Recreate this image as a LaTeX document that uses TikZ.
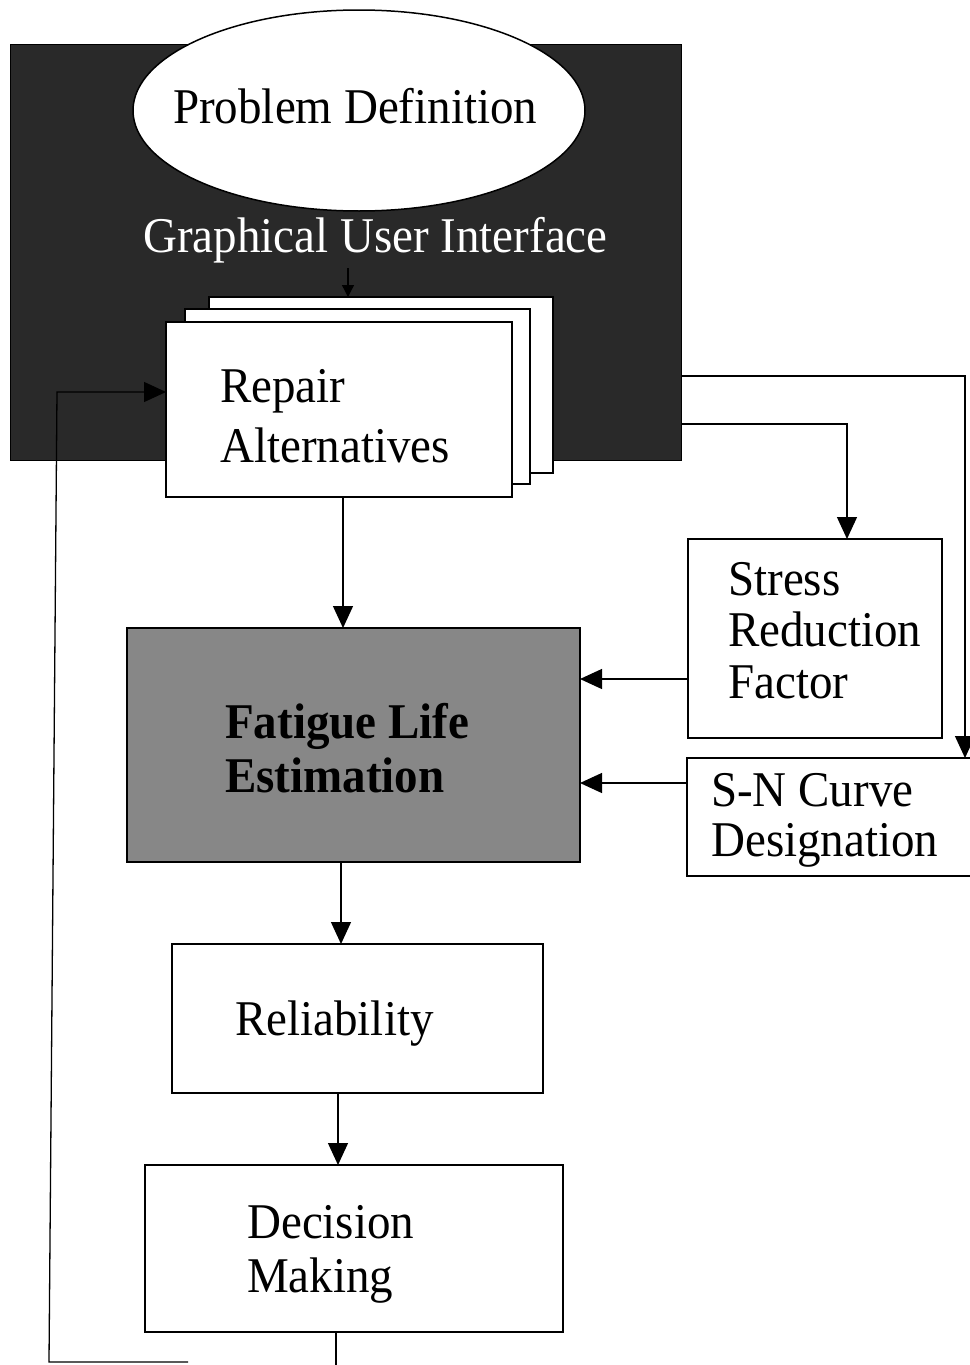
\documentclass[tikz,border=0pt]{standalone}
\usepackage{fontspec}
\setmainfont[FakeStretch=0.94]{Liberation Serif}
\usetikzlibrary{shapes.geometric,arrows.meta}
\begin{document}
\begin{tikzpicture}[x=1pt,y=-1pt,
  boxnode/.style={draw, line width=1.6pt, fill=white, inner sep=0pt, outer sep=0pt},
  txt/.style={anchor=base west, inner sep=0pt, font=\fontsize{50}{56}\selectfont},
  arr/.style={line width=1.3pt, -{Triangle[length=22pt,width=20pt]}},
  smallarr/.style={line width=1.3pt, -{Triangle[length=12pt,width=12pt]}},
  plain/.style={line width=1.3pt}]
\useasboundingbox (0,0) rectangle (969,1365);
% dark GUI block
\node[draw=black, fill=black!84, inner sep=0pt, outer sep=0pt, minimum width=671pt, minimum height=416pt] (gui) at (345.5,252) {};
% ellipse
\node[ellipse, draw, line width=1.5pt, fill=white, inner sep=0pt, minimum width=452pt, minimum height=201pt] (prob) at (359,110.5) {};
\node[txt] (t-prob) at (173,123) {Problem Definition};
\node[txt, text=white] (t-gui) at (143,252) {Graphical User Interface};
% stacked pages
\node[boxnode, minimum width=344pt, minimum height=176pt] (page3) at (381,385) {};
\node[boxnode, minimum width=345pt, minimum height=175pt] (page2) at (357.5,396.5) {};
\node[boxnode, minimum width=346pt, minimum height=175pt] (repair) at (339,409.5) {};
\node[txt] (t-rep1) at (220,402) {Repair};
\node[txt] (t-rep2) at (220,462) {Alternatives};
% side boxes
\node[boxnode, minimum width=254pt, minimum height=199pt] (stress) at (815,638.5) {};
\node[txt] (t-st1) at (728,595) {Stress};
\node[txt] (t-st2) at (728,646) {Reduction};
\node[txt] (t-st3) at (728,698) {Factor};
\node[boxnode, minimum width=303pt, minimum height=118pt] (sn) at (838.5,817) {};
\node[txt] (t-sn1) at (711,806) {S-N Curve};
\node[txt] (t-sn2) at (711,856) {Designation};
% fatigue
\node[boxnode, fill=black!47, minimum width=453pt, minimum height=234pt] (fatigue) at (353.5,745) {};
\node[txt, font=\fontsize{50}{56}\selectfont\bfseries] (t-fa1) at (225,738) {Fatigue Life};
\node[txt, font=\fontsize{50}{56}\selectfont\bfseries] (t-fa2) at (225,792) {Estimation};
% reliability, decision
\node[boxnode, minimum width=371pt, minimum height=149pt] (rel) at (357.5,1018.5) {};
\node[txt] (t-rel) at (235,1035) {Reliability};
\node[boxnode, minimum width=418pt, minimum height=167pt] (dec) at (354,1248.5) {};
\node[txt] (t-dec1) at (247,1238) {Decision};
\node[txt] (t-dec2) at (247,1292) {Making};
% connectors
\coordinate (guiarr) at (348,268);
\draw[smallarr] (guiarr) -- (guiarr |- page3.north);
\draw[arr] ([xshift=4pt]repair.south) -- ([xshift=4pt]repair.south |- fatigue.north);
\draw[arr] ([xshift=-12.5pt]fatigue.south) -- ([xshift=-12.5pt]fatigue.south |- rel.north);
\draw[arr] ([xshift=-19.5pt]rel.south) -- ([xshift=-19.5pt]rel.south |- dec.north);
\coordinate (decout) at (336,1368);
\draw[plain] ([xshift=-18pt]dec.south) -- (decout);
\draw[arr] ([yshift=-40.5pt]stress.west) -- ([yshift=-40.5pt]stress.west -| fatigue.east);
\draw[arr] ([yshift=34pt]sn.west) -- ([yshift=34pt]sn.west -| fatigue.east);
\draw[arr] ([yshift=-172pt]gui.east) -| ([xshift=32pt]stress.north);
\draw[arr] ([yshift=-124pt]gui.east) -| ([xshift=126.5pt]sn.north);
\coordinate (fb1) at (188,1362);
\coordinate (fb2) at (49,1362);
\coordinate (fb3) at (57,392);
\draw[arr] (fb1) -- (fb2) -- (fb3) -- (fb3 -| repair.west);
\end{tikzpicture}
\end{document}
